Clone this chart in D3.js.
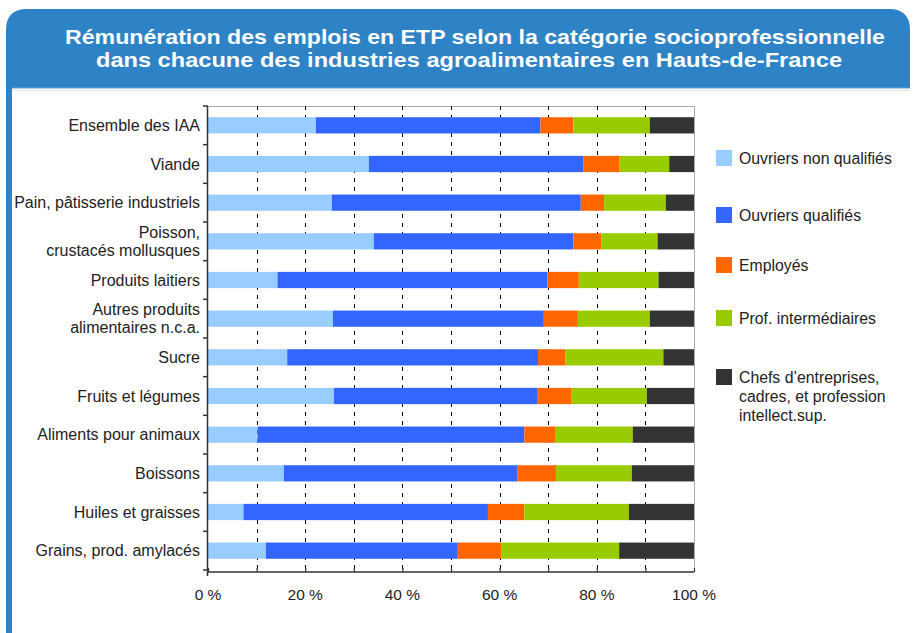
<!DOCTYPE html>
<html><head><meta charset="utf-8">
<script src="https://cdn.jsdelivr.net/npm/d3@7"></script>
<style>body{margin:0;background:#fff;}svg{display:block;font-family:"Liberation Sans",Arial,sans-serif;}</style>
</head><body>
<script>
const categories = ["Ensemble des IAA","Viande","Pain, pâtisserie industriels","Poisson,\ncrustacés mollusques","Produits laitiers","Autres produits\nalimentaires n.c.a.","Sucre","Fruits et légumes","Aliments pour animaux","Boissons","Huiles et graisses","Grains, prod. amylacés"];
const seriesNames = ["Ouvriers non qualifiés","Ouvriers qualifiés","Employés","Prof. intermédiaires","Chefs d\u2019entreprises,\ncadres, et profession\nintellect.sup."];
const seriesColors = ["#99CCFF","#3366FF","#FF6600","#99CC00","#333333"];
const ouvriersNonQualifies = [22.2,33.1,25.5,34.1,14.3,25.7,16.3,25.9,10.2,15.6,7.3,11.9];
const ouvriersQualifies    = [46.2,44.1,51.2,41.1,55.5,43.4,51.6,41.8,54.9,48.0,50.3,39.5];
const employes             = [6.8,7.4,4.8,5.7,6.5,7.0,5.6,7.0,6.3,8.0,7.5,8.9];
const profIntermediaires   = [15.7,10.3,12.7,11.6,16.4,14.8,20.2,15.6,16.0,15.6,21.5,24.3];
const chefsCadres          = [9.1,5.1,5.8,7.5,7.3,9.1,6.3,9.7,12.6,12.8,13.4,15.4];
const xTicks = [0,10,20,30,40,50,60,70,80,90,100];
const xTickLabels = ["0 %","20 %","40 %","60 %","80 %","100 %"];

(function(){
const W=915,H=633;
const svg=d3.select("body").append("svg").attr("width",W).attr("height",H);

// frame
const blue="#2E83C6";
svg.append("path").attr("fill",blue)
  .attr("d",`M6,${H} L6,30 Q6,9 27,9 L889,9 Q910,9 910,30 L910,88 L12,88 L12,${H} Z`);
svg.append("line").attr("x1",12).attr("x2",910).attr("y1",88).attr("y2",88).attr("stroke","#5aa0d8").attr("stroke-width",1);
svg.append("line").attr("x1",12).attr("x2",910).attr("y1",90.5).attr("y2",90.5).attr("stroke","#dfe6ee").attr("stroke-width",1);

const title=svg.append("text").attr("fill","#fff").attr("font-weight","bold").attr("font-size",21).attr("text-anchor","middle");
title.append("tspan").attr("x",475).attr("y",44).attr("textLength",820).attr("lengthAdjust","spacingAndGlyphs").text("Rémunération des emplois en ETP selon la catégorie socioprofessionnelle");
title.append("tspan").attr("x",469).attr("y",67).attr("textLength",746).attr("lengthAdjust","spacingAndGlyphs").text("dans chacune des industries agroalimentaires en Hauts-de-France");

const pl=208,pr=694,pt=106,pb=570;
const x=d3.scaleLinear().domain([0,100]).range([pl,pr]);
const y=d3.scaleBand().domain(categories).range([pt,pb]).paddingInner(0.58).paddingOuter(0.29);

// plot frame
svg.append("line").attr("x1",pl).attr("x2",pr).attr("y1",pt+0.5).attr("y2",pt+0.5).attr("stroke","#aaa");
svg.append("line").attr("x1",pr+0.5).attr("x2",pr+0.5).attr("y1",pt).attr("y2",pb+2).attr("stroke","#aaa");

// gridlines
svg.append("g").selectAll("line").data(xTicks.filter(d=>d>0&&d<100)).join("line")
  .attr("x1",d=>Math.round(x(d))+0.5).attr("x2",d=>Math.round(x(d))+0.5)
  .attr("y1",pt).attr("y2",pb).attr("stroke","#000").attr("stroke-dasharray","4,5");

// stacked bars
const data=categories.map((c,i)=>({cat:c,s0:ouvriersNonQualifies[i],s1:ouvriersQualifies[i],s2:employes[i],s3:profIntermediaires[i],s4:chefsCadres[i]}));
const keys=["s0","s1","s2","s3","s4"];
const stacked=d3.stack().keys(keys).offset(d3.stackOffsetExpand)(data);
svg.append("g").selectAll("g").data(stacked).join("g").attr("fill",(d,i)=>seriesColors[i])
  .selectAll("rect").data(d=>d).join("rect")
  .attr("x",d=>x(d[0]*100)).attr("width",d=>x(d[1]*100)-x(d[0]*100))
  .attr("y",d=>y(d.data.cat)).attr("height",y.bandwidth());

// y axis
const yAxisG=svg.append("g");
yAxisG.append("line").attr("x1",pl-0.5).attr("x2",pl-0.5).attr("y1",pt).attr("y2",pb+6).attr("stroke","#333").attr("stroke-width",1.5);
yAxisG.selectAll(".yt").data(d3.range(categories.length+1)).join("line")
  .attr("x1",pl-5).attr("x2",pl).attr("y1",i=>pt+i*(pb-pt)/categories.length).attr("y2",i=>pt+i*(pb-pt)/categories.length)
  .attr("stroke","#333").attr("stroke-width",1.5);
categories.forEach(c=>{
  const lines=c.split("\n");
  const cy=y(c)+y.bandwidth()/2;
  const t=svg.append("text").attr("text-anchor","end").attr("font-size",16).attr("fill","#222");
  lines.forEach((l,j)=>t.append("tspan").attr("x",200).attr("y",cy+5.5+(j-(lines.length-1)/2)*18.5).text(l));
});

// x axis
const xAxis=d3.axisBottom(x).tickValues(xTicks).tickSize(-4).tickFormat(()=>"");
const xg=svg.append("g").attr("transform",`translate(0,${pb+2})`).call(xAxis);
xg.select(".domain").attr("stroke","#333").attr("stroke-width",1.5).attr("d",`M${pl},0H${pr}`);
xg.selectAll(".tick line").attr("stroke","#333").attr("stroke-width",1.2);
svg.append("g").selectAll("text").data(xTickLabels).join("text")
  .attr("x",(d,i)=>x(i*20)).attr("y",600).attr("text-anchor","middle").attr("font-size",15.5).attr("fill","#222").text(d=>d);

// legend
const legY=[150,207,257,310,369];
seriesNames.forEach((n,i)=>{
  svg.append("rect").attr("x",716).attr("y",legY[i]).attr("width",16).attr("height",16).attr("fill",seriesColors[i]);
  const lines=n.split("\n");
  const t=svg.append("text").attr("font-size",15.8).attr("fill","#222");
  lines.forEach((l,j)=>t.append("tspan").attr("x",739).attr("y",legY[i]+13.5+j*19).text(l));
});
})();
</script>
</body></html>
